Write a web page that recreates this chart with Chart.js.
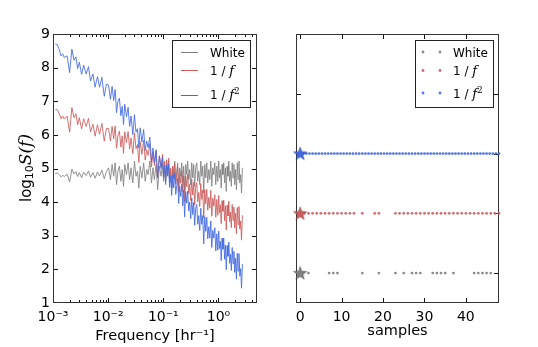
<!DOCTYPE html>
<html>
<head>
<meta charset="utf-8">
<script src="https://cdn.jsdelivr.net/npm/chart.js@4"></script>
<style>
  html, body { margin: 0; padding: 0; background: #fff; }
  #wrap { position: relative; width: 538px; height: 347px; }
  #specBox { position: absolute; left: 0; top: 0; width: 275px; height: 347px; }
  #sampBox { position: absolute; left: 275px; top: 0; width: 263px; height: 347px; }
</style>
</head>
<body>
<div id="wrap">
  <div id="specBox"><canvas id="specChart"></canvas></div>
  <div id="sampBox"><canvas id="sampChart"></canvas></div>
</div>
<script>
// ---- data ----
const seriesNames = ['White', '1 / f', '1 / f²'];
const seriesColors = ['128,128,128', '205,92,92', '65,105,225'];

// frequency grid [1/hr]
const freq = [
  0.0011, 0.0012, 0.0013, 0.0014, 0.0015, 0.0016, 0.0018, 0.002, 0.0022, 0.0024, 0.0026, 0.0028, 0.003,
  0.0033, 0.0036, 0.004, 0.0044, 0.0048, 0.0053, 0.0058, 0.0064, 0.007, 0.0077, 0.0085, 0.0093,
  0.0102, 0.011, 0.0118, 0.0126, 0.0134, 0.0142, 0.015, 0.016, 0.017, 0.018, 0.019, 0.020, 0.0215, 0.023,
  0.0245, 0.026, 0.028, 0.030, 0.032, 0.034, 0.036, 0.038, 0.041, 0.044, 0.047, 0.050, 0.053, 0.057,
  0.061, 0.065, 0.069, 0.074, 0.079, 0.085, 0.091,
  0.097, 0.101, 0.106, 0.110, 0.115, 0.120, 0.125, 0.130, 0.136, 0.142, 0.148, 0.154, 0.161, 0.168,
  0.175, 0.182, 0.190, 0.198, 0.207, 0.216, 0.225, 0.234, 0.244, 0.255, 0.266, 0.277, 0.289, 0.301,
  0.314, 0.328, 0.342, 0.356, 0.371, 0.387, 0.404, 0.421, 0.439, 0.458, 0.478, 0.498, 0.519, 0.541,
  0.565, 0.589, 0.614, 0.640, 0.668, 0.696, 0.726, 0.757, 0.790, 0.823, 0.859, 0.895, 0.934,
  0.974, 1.01, 1.045, 1.083, 1.122, 1.162, 1.204, 1.247, 1.292, 1.338, 1.386, 1.436, 1.488, 1.541,
  1.597, 1.654, 1.714, 1.775, 1.839, 1.905, 1.974, 2.045, 2.118, 2.194, 2.273, 2.355, 2.44, 2.53, 2.62, 2.72
];

// log10 S(f) for each series
const whiteSpec = [
  4.85, 4.87, 4.81, 4.75, 4.80, 4.76, 4.83, 4.60, 4.98, 4.84, 4.91, 4.76, 4.88, 4.73, 4.89, 4.79, 4.93,
  4.74, 4.88, 4.71, 4.90, 4.78, 4.95, 4.70, 4.91,
  5.02, 4.67, 5.12, 4.77, 5.17, 4.52, 4.92, 5.07, 4.62, 4.97, 4.47, 5.12, 4.82, 5.17, 4.67, 5.02, 4.57,
  5.22, 4.77, 4.92, 4.42, 5.07, 4.72, 5.17, 4.62, 4.97, 4.82, 5.22, 4.57, 5.02, 4.67, 5.12, 4.37, 5.07, 4.77,
  5.17, 4.62, 5.02, 4.52, 5.12, 4.82, 5.22, 4.57, 4.97, 4.42, 5.07, 4.72, 5.22, 4.62, 4.92, 5.17, 4.47,
  5.02, 4.77, 5.17, 4.57, 5.07, 4.32, 5.12, 4.82, 5.22, 4.67, 4.97, 4.52, 5.17, 4.72, 5.12, 4.47, 5.02,
  5.17, 4.62, 4.92, 4.52, 5.22, 4.77, 5.07, 4.27, 5.12, 4.72, 5.17, 4.57, 4.97, 4.67, 5.22, 4.47, 5.02,
  4.82, 5.17, 4.52, 5.07,
  4.62, 5.22, 4.72, 4.97, 4.42, 5.12, 4.82, 5.17, 4.57, 5.02, 4.32, 5.07, 4.77, 5.22, 4.62, 4.92, 4.47,
  5.17, 4.72, 5.12, 4.52, 4.97, 4.37, 5.17, 4.67, 5.22, 4.57, 4.82, 4.27, 5.02
];
const redSpec = [
  6.75, 6.75, 6.62, 6.48, 6.56, 6.47, 6.56, 6.08, 6.81, 6.51, 6.63, 6.30, 6.51, 6.18, 6.48, 6.25, 6.49,
  6.09, 6.32, 5.96, 6.30, 6.02, 6.34, 5.81, 6.19,
  6.19, 5.82, 6.25, 5.88, 6.26, 5.60, 5.97, 6.11, 5.64, 5.97, 5.45, 6.09, 5.77, 6.10, 5.58, 5.91, 5.44,
  6.06, 5.59, 5.71, 5.18, 5.80, 5.42, 5.83, 5.25, 5.56, 5.39, 5.74, 5.05, 5.48, 5.09, 5.51, 4.72, 5.38, 5.05,
  5.42, 4.84, 5.22, 4.69, 5.26, 4.94, 5.31, 4.64, 5.01, 4.44, 5.06, 4.69, 5.16, 4.54, 4.81, 5.04, 4.31,
  4.83, 4.56, 4.93, 4.31, 4.78, 4.01, 4.78, 4.46, 4.83, 4.25, 4.53, 4.05, 4.68, 4.21, 4.59, 3.92, 4.45,
  4.58, 4.01, 4.29, 3.87, 4.55, 4.08, 4.36, 3.54, 4.37, 3.95, 4.38, 3.76, 4.14, 3.82, 4.35, 3.58, 4.11,
  3.89, 4.22, 3.55, 4.08,
  3.61, 4.20, 3.68, 3.92, 3.36, 4.04, 3.73, 4.06, 3.45, 3.89, 3.17, 3.91, 3.59, 4.03, 3.42, 3.70, 3.24,
  3.93, 3.46, 3.85, 3.23, 3.67, 3.06, 3.84, 3.33, 3.87, 3.20, 3.44, 2.87, 3.61
];
const blueSpec = [
  8.70, 8.68, 8.53, 8.35, 8.41, 8.30, 8.35, 7.85, 8.55, 8.22, 8.32, 7.97, 8.16, 7.80, 8.07, 7.81, 8.03,
  7.60, 7.81, 7.42, 7.73, 7.42, 7.71, 7.15, 7.51,
  7.48, 7.06, 7.44, 7.02, 7.35, 6.66, 6.99, 7.09, 6.57, 6.85, 6.31, 6.91, 6.54, 6.82, 6.25, 6.56, 6.01,
  6.60, 6.08, 6.18, 5.61, 6.21, 5.79, 6.16, 5.54, 5.82, 5.62, 5.93, 5.20, 5.61, 5.18, 5.56, 4.74, 5.37, 5.00,
  5.33, 4.74, 5.09, 4.56, 5.11, 4.77, 5.13, 4.44, 4.79, 4.20, 4.81, 4.42, 4.87, 4.23, 4.49, 4.70, 3.96,
  4.47, 4.17, 4.53, 3.89, 4.35, 3.56, 4.31, 3.97, 4.33, 3.74, 4.00, 3.51, 4.12, 3.63, 3.99, 3.31, 3.82,
  3.93, 3.34, 3.60, 3.16, 3.82, 3.34, 3.60, 2.76, 3.57, 3.13, 3.55, 2.91, 3.27, 2.93, 3.44, 2.65, 3.16,
  2.93, 3.24, 2.55, 3.06,
  2.57, 3.14, 2.62, 2.84, 2.26, 2.93, 2.60, 2.93, 2.30, 2.72, 1.99, 2.71, 2.39, 2.81, 2.18, 2.45, 1.97,
  2.65, 2.17, 2.54, 1.91, 2.33, 1.71, 2.48, 1.95, 2.47, 1.80, 2.02, 1.44, 2.16
];

// axis ticks, left panel
const freqMajor = [0.001, 0.01, 0.1, 1];
const freqTickLabels = ['10⁻³', '10⁻²', '10⁻¹', '10⁰'];
const freqMinor = [
  0.002, 0.003, 0.004, 0.005, 0.006, 0.007, 0.008, 0.009,
  0.02, 0.03, 0.04, 0.05, 0.06, 0.07, 0.08, 0.09,
  0.2, 0.3, 0.4, 0.5, 0.6, 0.7, 0.8, 0.9,
  2, 3, 4, 5
];

// right panel: which samples are kept in each row
const rowLevel = [0, 1, 2];
const starX = 0;
const whiteSampleX = [2, 7, 8, 9, 15, 19, 23, 25, 27, 28, 29, 32, 33, 34, 35, 37, 42, 43, 44, 45, 46];
const redSampleX = [1, 2, 3, 4, 5, 6, 7, 8, 9, 10, 11, 12, 13, 15, 18, 19,
  23, 24, 25, 26, 27, 28, 29, 30, 31, 32, 33, 34, 35, 36, 37, 38, 39, 40, 41, 42, 43, 44, 45, 46, 47, 48];
const blueSampleX = [0.75, 1.5, 2.25, 3, 3.75, 4.5, 5.25, 6, 6.75, 7.5, 8.25, 9, 9.75, 10.5, 11.25, 12,
  12.75, 13.5, 14.25, 15, 15.75, 16.5, 17.25, 18, 18.75, 19.5, 20.25, 21, 21.75, 22.5, 23.25, 24,
  24.75, 25.5, 26.25, 27, 27.75, 28.5, 29.25, 30, 30.75, 31.5, 32.25, 33, 33.75, 34.5, 35.25, 36,
  36.75, 37.5, 38.25, 39, 39.75, 40.5, 41.25, 42, 42.75, 43.5, 44.25, 45, 45.75, 46.5, 47.25, 48];
const sampleTicks = [0, 10, 20, 30, 40];
const rowTicks = [0, 1, 2, 3, 4];

// ---- helpers ----
Chart.defaults.font.family = '"DejaVu Sans"';
Chart.defaults.color = '#000';

function rgba(c, a) { return 'rgba(' + c + ',' + a + ')'; }

function pts(xs, ys) { return xs.map((x, i) => ({ x: x, y: ys[i] })); }

// split "1 / f²" into plain / italic / superscript pieces
function richParts(str) {
  const parts = [];
  for (const ch of str) {
    let kind = 'n', t = ch;
    if (ch === 'f') kind = 'i';
    else if (ch === '²') { kind = 's'; t = '2'; }
    const last = parts[parts.length - 1];
    if (last && last.kind === kind) last.t += t; else parts.push({ kind: kind, t: t });
  }
  const fonts = { n: '12px "DejaVu Sans"', i: 'italic 13px "DejaVu Serif"', s: '9px "DejaVu Serif"' };
  const dys = { n: 0, i: 0, s: -5 };
  return parts.map(p => ({ t: p.t, font: fonts[p.kind], dy: dys[p.kind] }));
}

function drawRich(ctx, parts, x, y) {
  let cx = x;
  parts.forEach(p => {
    ctx.font = p.font;
    ctx.fillText(p.t, cx, y + p.dy);
    cx += ctx.measureText(p.t).width;
  });
  return cx - x;
}

function richWidth(ctx, parts) {
  let w = 0;
  parts.forEach(p => { ctx.font = p.font; w += ctx.measureText(p.t).width; });
  return w;
}

function makeStar(color) {
  const c = document.createElement('canvas');
  c.width = 18; c.height = 18;
  const g = c.getContext('2d');
  g.beginPath();
  for (let i = 0; i < 10; i++) {
    const r = i % 2 === 0 ? 7.2 : 3.0;
    const ang = -Math.PI / 2 + i * Math.PI / 5;
    const px = 9 + r * Math.cos(ang), py = 9.5 + r * Math.sin(ang);
    if (i === 0) g.moveTo(px, py); else g.lineTo(px, py);
  }
  g.closePath();
  g.fillStyle = 'rgb(' + color + ')';
  g.fill();
  g.lineWidth = 0.5;
  g.strokeStyle = 'rgba(0,0,0,0.45)';
  g.stroke();
  return c;
}

// matplotlib-like frame with inward ticks (under the data), boxed legend on top
const mplFrame = {
  id: 'mplFrame',
  beforeDatasetsDraw(chart) {
    const ctx = chart.ctx, a = chart.chartArea;
    const xs = chart.scales.x, ys = chart.scales.y;
    const L = Math.round(a.left) + 0.5, R = Math.round(a.right) - 0.5;
    const T = Math.round(a.top) + 0.5, B = Math.round(a.bottom) - 0.5;
    ctx.save();
    ctx.lineWidth = 1;
    ctx.strokeStyle = '#111';
    ctx.beginPath();
    xs.ticks.forEach(t => {
      const p = Math.round(xs.getPixelForValue(t.value)) + 0.5;
      if (p < L + 1 || p > R - 1) return;
      const len = t.minor ? 2.5 : 4.5;
      ctx.moveTo(p, B); ctx.lineTo(p, B - len);
      ctx.moveTo(p, T); ctx.lineTo(p, T + len);
    });
    ys.ticks.forEach(t => {
      const p = Math.round(ys.getPixelForValue(t.value)) + 0.5;
      if (p < T + 1 || p > B - 1) return;
      ctx.moveTo(L, p); ctx.lineTo(L + 4.5, p);
      ctx.moveTo(R, p); ctx.lineTo(R - 4.5, p);
    });
    ctx.stroke();
    ctx.strokeStyle = '#333';
    ctx.strokeRect(L, T, R - L, B - T);
    ctx.restore();
  },
  afterDraw(chart, args, o) {
    const ctx = chart.ctx;
    ctx.save();
    if (o.legend) {
      const g = o.legend;
      ctx.fillStyle = '#fff';
      ctx.fillRect(g.x, g.y, g.w, g.h);
      ctx.lineWidth = 1;
      ctx.strokeStyle = '#222';
      ctx.strokeRect(g.x + 0.5, g.y + 0.5, g.w, g.h);
      seriesNames.forEach((name, i) => {
        const col = seriesColors[i];
        if (g.kind === 'line') {
          ctx.strokeStyle = 'rgb(' + col + ')';
          ctx.lineWidth = 1;
          ctx.beginPath();
          ctx.moveTo(g.x + 9, g.rows[i] + 0.5);
          ctx.lineTo(g.x + 26, g.rows[i] + 0.5);
          ctx.stroke();
        } else {
          ctx.fillStyle = rgba(col, 0.9);
          [8, 25].forEach(dx => {
            ctx.beginPath();
            ctx.arc(g.x + dx, g.rows[i], 1.4, 0, Math.PI * 2);
            ctx.fill();
          });
        }
        ctx.fillStyle = '#000';
        ctx.textBaseline = 'alphabetic';
        ctx.textAlign = 'left';
        drawRich(ctx, richParts(name), g.x + 38, g.base[i]);
      });
    }

    if (o.yTitle) {
      const parts = [
        { t: 'log', font: '15px "DejaVu Sans"', dy: 0 },
        { t: '10', font: '11px "DejaVu Sans"', dy: 3.5 },
        { t: 'S(f)', font: 'italic 17px "DejaVu Serif"', dy: 0 }
      ];
      ctx.translate(o.yTitle.x, o.yTitle.y);
      ctx.rotate(-Math.PI / 2);
      ctx.fillStyle = '#000';
      ctx.textBaseline = 'middle';
      ctx.textAlign = 'left';
      drawRich(ctx, parts, -richWidth(ctx, parts) / 2, 0);
    }
    ctx.restore();
  }
};

const tickFont = { family: '"DejaVu Sans"', size: 14 };
const titleFont = { family: '"DejaVu Sans"', size: 14.5 };

// ---- left panel: spectra ----
new Chart(document.getElementById('specChart'), {
  type: 'line',
  data: {
    datasets: [
      { label: seriesNames[2], data: pts(freq, blueSpec), borderColor: rgba(seriesColors[2], 0.85), order: 0 },
      { label: seriesNames[1], data: pts(freq, redSpec), borderColor: rgba(seriesColors[1], 0.85), order: 1 },
      { label: seriesNames[0], data: pts(freq, whiteSpec), borderColor: rgba(seriesColors[0], 0.85), order: 2 }
    ]
  },
  options: {
    responsive: true,
    maintainAspectRatio: false,
    animation: false,
    devicePixelRatio: 1,
    elements: { point: { radius: 0 }, line: { borderWidth: 1, tension: 0 } },
    layout: { padding: { left: 0, top: 34, right: 18, bottom: 0 } },
    plugins: {
      legend: { display: false },
      tooltip: { enabled: false },
      mplFrame: {
        legend: { kind: 'line', x: 172, y: 40, w: 78, h: 67, rows: [52, 70, 95], base: [56.5, 75, 99] },
        yTitle: { x: 27, y: 168 }
      }
    },
    scales: {
      x: {
        type: 'logarithmic',
        min: 0.001,
        max: 5,
        grid: { display: false, drawTicks: false },
        border: { display: false },
        afterBuildTicks: s => {
          s.ticks = freqMajor.map(v => ({ value: v, minor: false }))
            .concat(freqMinor.map(v => ({ value: v, minor: true })))
            .sort((p, q) => p.value - q.value);
        },
        afterFit: s => { s.height = 44; },
        ticks: {
          autoSkip: false,
          maxRotation: 0,
          padding: 6,
          font: tickFont,
          callback: v => {
            const i = freqMajor.indexOf(v);
            return i < 0 ? '' : freqTickLabels[i];
          }
        },
        title: { display: true, text: 'Frequency [hr⁻¹]', font: titleFont, padding: { top: 0, bottom: 2 } }
      },
      y: {
        min: 1,
        max: 9,
        grid: { display: false, drawTicks: false },
        border: { display: false },
        afterFit: s => { s.width = 53; },
        ticks: { stepSize: 1, padding: 3, font: tickFont }
      }
    }
  },
  plugins: [mplFrame]
});

// ---- right panel: samples kept ----
const dotSet = (xs, i) => ({
  label: seriesNames[i],
  data: xs.map(x => ({ x: x, y: rowLevel[i] })),
  pointRadius: 1.4,
  pointBorderWidth: 0,
  pointBackgroundColor: rgba(seriesColors[i], 0.9),
  clip: false,
  order: 5 + i
});
const starSet = i => ({
  label: seriesNames[i],
  data: [{ x: starX, y: rowLevel[i] }],
  pointStyle: makeStar(seriesColors[i]),
  pointRadius: 7,
  clip: false,
  order: i
});

new Chart(document.getElementById('sampChart'), {
  type: 'scatter',
  data: {
    datasets: [starSet(0), starSet(1), starSet(2),
      dotSet(whiteSampleX, 0), dotSet(redSampleX, 1), dotSet(blueSampleX, 2)]
  },
  options: {
    responsive: true,
    maintainAspectRatio: false,
    animation: false,
    devicePixelRatio: 1,
    layout: { padding: { left: 21, top: 34, right: 39, bottom: 0 } },
    plugins: {
      legend: { display: false },
      tooltip: { enabled: false },
      mplFrame: {
        legend: { kind: 'dot', x: 140, y: 40, w: 78, h: 67, rows: [52, 70.5, 93], base: [56.5, 75, 97.5] }
      }
    },
    scales: {
      x: {
        type: 'linear',
        min: -1,
        max: 48,
        grid: { display: false, drawTicks: false },
        border: { display: false },
        afterBuildTicks: s => { s.ticks = sampleTicks.map(v => ({ value: v })); },
        afterFit: s => { s.height = 44; },
        ticks: { autoSkip: false, maxRotation: 0, padding: 6, font: tickFont },
        title: { display: true, text: 'samples', font: titleFont, padding: { top: 0, bottom: 7 } }
      },
      y: {
        min: -0.5,
        max: 4,
        grid: { display: false, drawTicks: false },
        border: { display: false },
        afterBuildTicks: s => { s.ticks = rowTicks.map(v => ({ value: v })); },
        afterFit: s => { s.width = 0; },
        ticks: { display: false }
      }
    }
  },
  plugins: [mplFrame]
});
</script>
</body>
</html>
